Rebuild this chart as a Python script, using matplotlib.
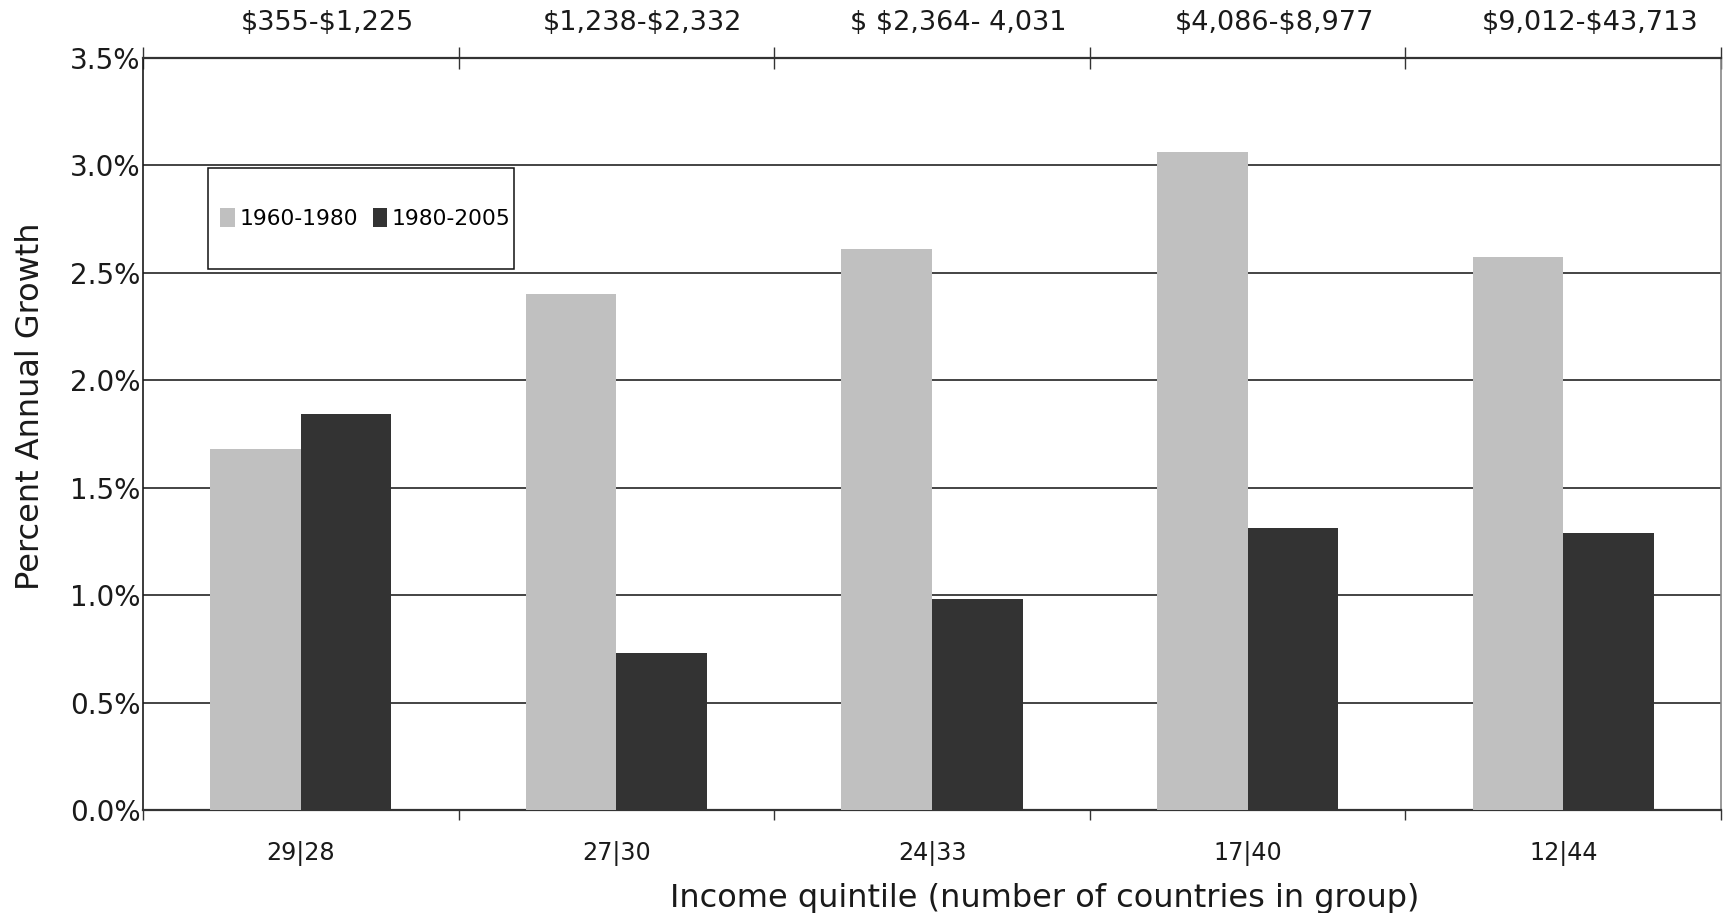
import matplotlib
matplotlib.use("Agg")
import matplotlib.pyplot as plt
import numpy as np
from matplotlib.patches import Rectangle, Patch
from matplotlib.ticker import FuncFormatter, MultipleLocator

plt.rcParams["text.parse_math"] = False

# Growth of GDP per capita by income quintile
group_counts = ["29|28", "27|30", "24|33", "17|40", "12|44"]
income_ranges = ["$355-$1,225", "$1,238-$2,332", "$ $2,364- 4,031",
                 "$4,086-$8,977", "$9,012-$43,713"]
series_names = ["1960-1980", "1980-2005"]
growth_1960_1980 = [1.68, 2.40, 2.61, 3.06, 2.57]
growth_1980_2005 = [1.84, 0.73, 0.98, 1.31, 1.29]

light = "#c0c0c0"
dark = "#333333"

fig = plt.figure(figsize=(17.26, 9.13), dpi=100)
ax = fig.add_axes([0.0829, 0.1128, 0.9142, 0.8242])

x = np.arange(len(group_counts))
w = 0.287
ax.bar(x - w / 2, growth_1960_1980, width=w, color=light, zorder=3)
ax.bar(x + w / 2, growth_1980_2005, width=w, color=dark, zorder=3)

ax.set_xlim(-0.5, len(group_counts) - 0.5)
ax.set_ylim(0, 3.5)

# horizontal gridlines
ax.yaxis.set_major_locator(MultipleLocator(0.5))
ax.yaxis.set_major_formatter(FuncFormatter(lambda v, p: f"{v:.1f}%"))
ax.grid(axis="y", color="#111111", linewidth=1.1, zorder=1)
ax.tick_params(axis="y", length=0, pad=2, labelsize=20, colors="#1a1a1a")

# bottom: group labels at centres, tick marks at group boundaries
ax.set_xticks(x)
ax.set_xticklabels(group_counts)
ax.set_xticks(np.arange(-0.5, len(group_counts)), minor=True)
ax.tick_params(axis="x", which="major", length=0, pad=22, labelsize=17.2,
               colors="#1a1a1a")
ax.tick_params(axis="x", which="minor", length=7, width=1.0, direction="out",
               color="#333333")

# top: boundaries with crossing ticks, income ranges above each group
top = ax.secondary_xaxis("top")
top.set_xticks(np.arange(-0.5, len(group_counts)))
top.set_xticklabels([])
top.tick_params(axis="x", length=16, width=1.0, direction="inout",
                color="#333333")
top.spines["top"].set_visible(False)
for i, lab in enumerate(income_ranges):
    ax.annotate(lab, xy=(x[i], 1.0), xycoords=("data", "axes fraction"),
                xytext=(19, 25), textcoords="offset points",
                ha="center", va="center", fontsize=19.5, color="#1a1a1a")

for side in ["top", "bottom"]:
    ax.spines[side].set_color("#333333")
    ax.spines[side].set_linewidth(1.6)
ax.spines["left"].set_color("#1a1a1a")
ax.spines["left"].set_linewidth(1.2)
ax.spines["right"].set_color("#888888")
ax.spines["right"].set_linewidth(1.2)

ax.set_ylabel("Percent Annual Growth", fontsize=23, color="#1a1a1a")
ax.yaxis.set_label_coords(-0.0614, 0.537)
ax.set_xlabel("Income quintile (number of countries in group)", fontsize=23,
              color="#1a1a1a")
ax.xaxis.set_label_coords(0.5716, -0.097)

# legend with a separate frame
ax.add_patch(Rectangle((0.0412, 0.719), 0.1939, 0.134, transform=ax.transAxes,
                       facecolor="white", edgecolor="#111111", linewidth=1.1,
                       zorder=4))
handles = [Patch(facecolor=light), Patch(facecolor=dark)]
leg = ax.legend(handles, series_names, loc="center left",
                bbox_to_anchor=(0.049, 0.786), ncol=2, frameon=False,
                borderpad=0, borderaxespad=0, handlelength=0.66,
                handleheight=0.95, handletextpad=0.22, columnspacing=0.66,
                fontsize=15.7)
leg.set_zorder(5)

fig.savefig("out.png", dpi=100)
